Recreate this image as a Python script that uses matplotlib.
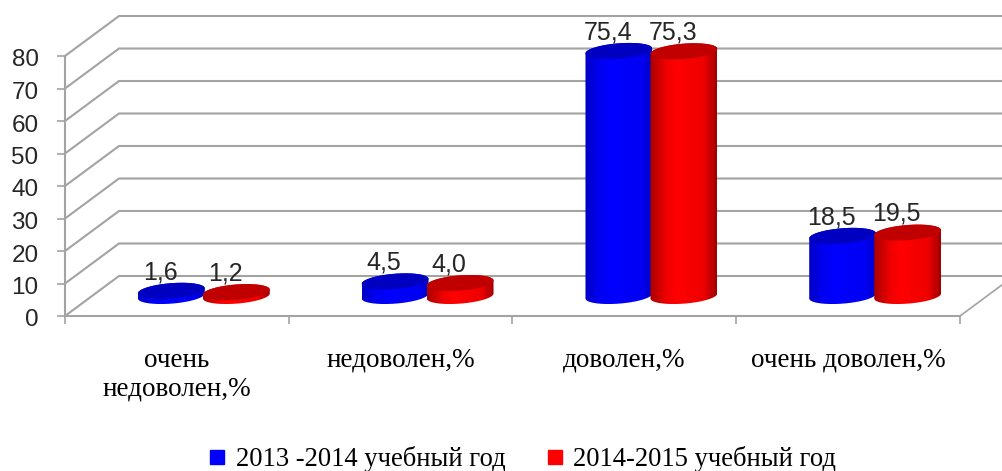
#!/usr/bin/env python3
import numpy as np
import matplotlib
matplotlib.use("Agg")
import matplotlib.pyplot as plt
from matplotlib.colors import LinearSegmentedColormap
from matplotlib.lines import Line2D
from matplotlib.patches import PathPatch
from matplotlib.path import Path
from matplotlib.transforms import ScaledTranslation

categories = ["очень\nнедоволен,%", "недоволен,%", "доволен,%", "очень доволен,%"]
series_names = ["2013 -2014 учебный год", "2014-2015 учебный год"]
values_2013 = [1.6, 4.5, 75.4, 18.5]
values_2014 = [1.2, 4.0, 75.3, 19.5]
labels_2013 = ["1,6", "4,5", "75,4", "18,5"]
labels_2014 = ["1,2", "4,0", "75,3", "19,5"]
y_ticks = [0, 10, 20, 30, 40, 50, 60, 70, 80]

W, H = 1003, 471
X0, X1, Y0, Y1 = 65, 960, 316, 56
px_x = (X1 - X0) / 4  # pixels per category
px_y = (Y0 - Y1) / 80  # pixels per value unit
depth_x, depth_y = 54 / px_x, 40 / px_y
GRID = "#a3a3a3"
A, B, ANG = 33.5, 7.6, np.radians(4.5)

fig = plt.figure(figsize=(W / 100, H / 100), dpi=100)
ax = fig.add_axes([X0 / W, 1 - Y0 / H, (X1 - X0) / W, (Y0 - Y1) / H])
ax.patch.set_alpha(0)

right_edge = (W - X0) / px_x
for v in y_ticks:
    ax.plot([0, depth_x, right_edge], [v, v + depth_y, v + depth_y],
            color=GRID, lw=1.5, clip_on=False, zorder=1, solid_joinstyle="miter")
ax.plot([4, right_edge], [0, (right_edge - 4) / depth_x * depth_y],
        color=GRID, lw=1.2, clip_on=False, zorder=1)


def ellipse(cx, v, t):
    x = (A * np.cos(t) * np.cos(ANG) - B * np.sin(t) * np.sin(ANG)) / px_x
    y = (A * np.cos(t) * np.sin(ANG) + B * np.sin(t) * np.cos(ANG)) / px_y
    return cx + x, v + y


def cylinder(cx, v, cmap, top_color, z):
    base = depth_y / 2
    t0 = -np.arctan(B * np.tan(ANG) / A)  # where the tilted ellipse is widest
    xb, yb = ellipse(cx, base, np.linspace(np.pi + t0, 2 * np.pi + t0, 60))
    xt, yt = ellipse(cx, base + v, np.linspace(t0, np.pi + t0, 60))
    verts = np.column_stack([np.r_[xb, xt], np.r_[yb, yt]])
    body = PathPatch(Path(verts), transform=ax.transData, fc="none", ec="none")
    ax.add_patch(body)
    grad = np.linspace(0, 1, 256)[None, :]
    im = ax.imshow(grad, cmap=cmap, aspect="auto", zorder=z, vmin=0, vmax=1,
                   extent=[verts[:, 0].min(), verts[:, 0].max(), yb.min(), yt.max()])
    im.set_clip_path(body)
    im.set_clip_box(fig.bbox)  # tops go above the y=80 edge of the axes
    xe, ye = ellipse(cx, base + v, np.linspace(0, 2 * np.pi, 100))
    ax.fill(xe, ye, color=top_color, lw=0, zorder=z + 0.1, clip_on=False)


blue_map = LinearSegmentedColormap.from_list(
    "b", [(0, "#0000c4"), (0.2, "#0000f0"), (0.4, "#0000ff"), (0.85, "#0000f4"), (1, "#0000c0")])
red_map = LinearSegmentedColormap.from_list(
    "r", [(0, "#a80000"), (0.25, "#f00000"), (0.4, "#ff0000"), (0.8, "#f00000"), (1, "#a00000")])

offset = 32.5 / px_x
for i in range(4):
    center = i + 0.5 + depth_x / 2
    cylinder(center - offset, values_2013[i], blue_map, "#0000c0", 3 + i * 0.01)
    cylinder(center + offset, values_2014[i], red_map, "#c00000", 4 + i * 0.01)
    for sx, v, lab in [(-offset, values_2013[i], labels_2013[i]),
                       (offset, values_2014[i], labels_2014[i])]:
        ax.annotate(lab, (center + sx, depth_y / 2 + v), xytext=(-8, 13.5),
                    textcoords="offset points", ha="center", va="center",
                    fontsize=18, family="Liberation Sans", color="#262626", zorder=6,
                    annotation_clip=False)

ax.set_xlim(0, 4)
ax.set_ylim(0, 80)

for s in ["top", "right"]:
    ax.spines[s].set_visible(False)
for s in ["left", "bottom"]:
    ax.spines[s].set_color(GRID)
    ax.spines[s].set_linewidth(1.5)
    ax.spines[s].set_zorder(2)

ax.set_yticks(y_ticks)
ax.tick_params(axis="y", length=6, width=1.2, color=GRID, pad=13, labelsize=17.5,
               labelcolor="#262626")
for t in ax.get_yticklabels():
    t.set_family("Liberation Sans")
    t.set_transform(t.get_transform() + ScaledTranslation(0, -2 / 100, fig.dpi_scale_trans))

ax.set_xticks(range(5))
ax.set_xticklabels([])
ax.tick_params(axis="x", which="major", length=6, width=1.2, color=GRID)
ax.set_xticks(np.arange(4) + 0.5, minor=True)
ax.set_xticklabels(categories, minor=True, family="Liberation Serif", fontsize=19.5,
                   color="black", linespacing=1.2)
ax.tick_params(axis="x", which="minor", length=0, pad=23)

handles = [Line2D([], [], ls="none", marker="s", ms=9.5, color="#0000ff"),
           Line2D([], [], ls="none", marker="s", ms=9.5, color="#ff0000")]
fig.legend(handles, series_names, loc="center", bbox_to_anchor=(520 / W, 1 - 459 / H),
           ncol=2, frameon=False, prop={"family": "Liberation Serif", "size": 19.2},
           handletextpad=0.2, columnspacing=1.35, handlelength=1.0, borderpad=0)

fig.savefig("out.png", dpi=100)
